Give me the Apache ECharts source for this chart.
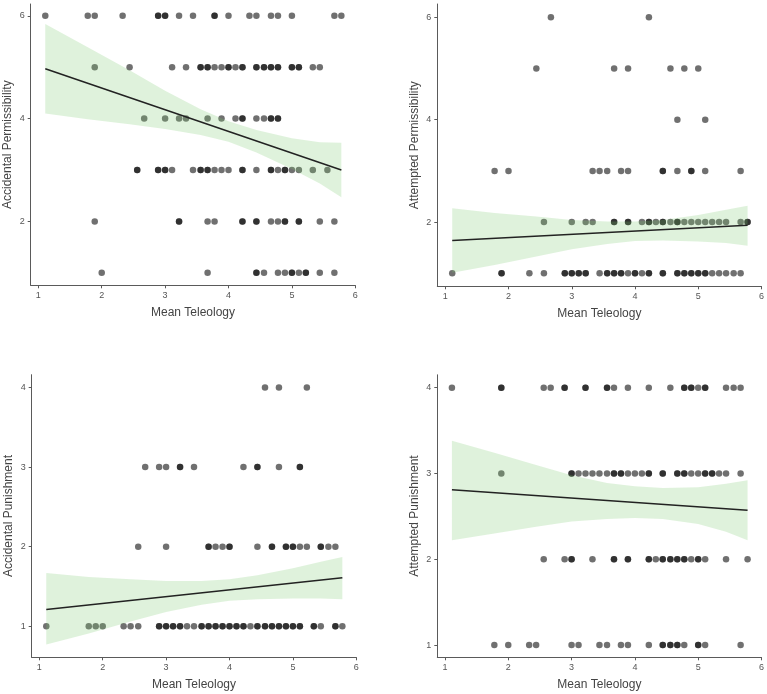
<!DOCTYPE html>
<html>
<head>
<meta charset="utf-8">
<script src="https://cdn.jsdelivr.net/npm/echarts@6/dist/echarts.min.js"></script>
<style>
  html, body { margin: 0; padding: 0; background: #fff; }
  #chart { width: 767px; height: 694px; }
</style>
</head>
<body>
<div id="chart"></div>
<script>
// points per response level (x = mean teleology); repeated x = overlapping points
var accPermRows = {
  6: [1.11, 1.78, 1.89, 2.33, 2.89, 2.89, 3.0, 3.0, 3.22, 3.44, 3.78, 3.78, 4.0, 4.33, 4.44, 4.67, 4.78, 5.0, 5.67, 5.78],
  5: [1.89, 2.44, 3.11, 3.33, 3.56, 3.56, 3.67, 3.67, 3.78, 3.89, 4.0, 4.0, 4.11, 4.22, 4.22, 4.44, 4.44, 4.56, 4.56, 4.67, 4.67, 4.78, 4.78, 5.0, 5.0, 5.11, 5.11, 5.33, 5.44],
  4: [2.67, 3.0, 3.22, 3.33, 3.67, 3.89, 4.11, 4.22, 4.22, 4.44, 4.56, 4.67, 4.67, 4.78, 4.78],
  3: [2.56, 2.56, 2.89, 2.89, 3.0, 3.0, 3.11, 3.44, 3.56, 3.56, 3.67, 3.67, 3.78, 3.89, 4.0, 4.22, 4.22, 4.44, 4.67, 4.67, 4.78, 4.89, 4.89, 5.0, 5.11, 5.33, 5.56],
  2: [1.89, 3.22, 3.22, 3.67, 3.78, 4.22, 4.22, 4.44, 4.44, 4.67, 4.78, 4.89, 4.89, 5.11, 5.11, 5.44, 5.67],
  1: [2.0, 3.67, 4.44, 4.44, 4.56, 4.78, 4.89, 5.0, 5.0, 5.11, 5.22, 5.22, 5.44, 5.67]
};
var attPermRows = {
  6: [2.67, 4.22],
  5: [2.44, 3.67, 3.89, 4.56, 4.78, 5.0],
  4: [4.67, 5.11],
  3: [1.78, 2.0, 3.33, 3.44, 3.56, 3.78, 3.89, 4.44, 4.44, 4.67, 4.89, 4.89, 5.11, 5.67],
  2: [2.56, 3.0, 3.22, 3.33, 3.67, 3.67, 3.89, 3.89, 4.11, 4.22, 4.22, 4.33, 4.44, 4.44, 4.56, 4.67, 4.67, 4.78, 4.89, 5.0, 5.11, 5.22, 5.33, 5.44, 5.67, 5.78, 5.78],
  1: [1.11, 1.89, 1.89, 2.33, 2.56, 2.89, 2.89, 3.0, 3.0, 3.11, 3.11, 3.22, 3.22, 3.44, 3.56, 3.56, 3.67, 3.67, 3.78, 3.78, 3.89, 4.0, 4.0, 4.11, 4.22, 4.22, 4.44, 4.44, 4.67, 4.67, 4.78, 4.78, 4.89, 4.89, 5.0, 5.0, 5.11, 5.11, 5.22, 5.33, 5.44, 5.56, 5.67]
};
var accPunRows = {
  4: [4.56, 4.78, 5.22],
  3: [2.67, 2.89, 3.0, 3.22, 3.22, 3.44, 4.22, 4.44, 4.44, 4.78, 5.11, 5.11],
  2: [2.56, 3.0, 3.67, 3.67, 3.78, 3.89, 4.0, 4.0, 4.44, 4.67, 4.67, 4.89, 4.89, 5.0, 5.0, 5.11, 5.22, 5.44, 5.44, 5.56, 5.67],
  1: [1.11, 1.78, 1.89, 2.0, 2.33, 2.44, 2.56, 2.89, 2.89, 3.0, 3.0, 3.11, 3.11, 3.22, 3.22, 3.33, 3.44, 3.56, 3.56, 3.67, 3.67, 3.78, 3.78, 3.89, 3.89, 4.0, 4.0, 4.11, 4.11, 4.22, 4.22, 4.33, 4.44, 4.44, 4.56, 4.56, 4.67, 4.67, 4.78, 4.78, 4.89, 4.89, 5.0, 5.0, 5.11, 5.11, 5.33, 5.33, 5.44, 5.67, 5.67, 5.78]
};
var attPunRows = {
  4: [1.11, 1.89, 1.89, 2.56, 2.67, 2.89, 2.89, 3.22, 3.22, 3.56, 3.56, 3.67, 3.89, 4.22, 4.56, 4.78, 4.78, 4.89, 4.89, 5.0, 5.11, 5.11, 5.44, 5.56, 5.67],
  3: [1.89, 3.0, 3.0, 3.11, 3.22, 3.33, 3.44, 3.56, 3.67, 3.67, 3.78, 3.78, 3.89, 4.0, 4.11, 4.22, 4.22, 4.44, 4.44, 4.67, 4.67, 4.78, 4.78, 4.89, 5.0, 5.11, 5.11, 5.22, 5.22, 5.33, 5.44, 5.67],
  2: [2.56, 2.89, 3.0, 3.0, 3.33, 3.67, 3.67, 3.89, 3.89, 4.22, 4.22, 4.33, 4.44, 4.44, 4.56, 4.56, 4.67, 4.67, 4.78, 4.78, 4.89, 5.0, 5.0, 5.11, 5.44, 5.78],
  1: [1.78, 2.0, 2.33, 2.44, 3.0, 3.11, 3.44, 3.56, 3.78, 3.89, 4.22, 4.44, 4.44, 4.56, 4.56, 4.67, 4.67, 4.78, 5.0, 5.0, 5.11, 5.67]
};

// fitted lines (ends) and confidence bands
var fitX = [1.11, 5.78];
var accPermFit = [4.97, 3.0];
var attPermFit = [1.64, 1.94];
var accPunFit = [1.21, 1.61];
var attPunFit = [2.81, 2.57];

var bandX = [1.11, 1.78, 2.44, 3.0, 3.56, 4.0, 4.44, 5.0, 5.44, 5.78];
var accPermHi = [5.84, 5.39, 4.94, 4.54, 4.18, 3.95, 3.78, 3.62, 3.54, 3.53];
var accPermLo = [4.10, 3.99, 3.89, 3.80, 3.68, 3.55, 3.34, 3.02, 2.74, 2.47];
var attPermHi = [2.27, 2.18, 2.11, 2.04, 2.01, 2.01, 2.04, 2.14, 2.24, 2.32];
var attPermLo = [1.01, 1.16, 1.33, 1.47, 1.57, 1.63, 1.64, 1.62, 1.59, 1.54];
var accPunHi = [1.67, 1.62, 1.59, 1.57, 1.57, 1.59, 1.64, 1.73, 1.81, 1.87];
var accPunLo = [0.77, 0.91, 1.06, 1.18, 1.27, 1.32, 1.34, 1.35, 1.35, 1.34];
var attPunHi = [3.38, 3.24, 3.10, 2.98, 2.89, 2.85, 2.83, 2.84, 2.88, 2.92];
var attPunLo = [2.22, 2.30, 2.38, 2.44, 2.47, 2.48, 2.47, 2.41, 2.32, 2.22];

var xTicks = [1, 2, 3, 4, 5, 6];
var permTicks = [2, 4, 6];
var punTicks = [1, 2, 3, 4];

var myChart = echarts.init(document.getElementById('chart'));

var axisColor = '#5a5a5a';
var fontFam = '"Liberation Sans", Arial, sans-serif';

function points(rows) {
  var out = [];
  Object.keys(rows).forEach(function (y) {
    rows[y].forEach(function (x) { out.push([x, +y]); });
  });
  return out;
}

function xAxis(i, min) {
  return {
    gridIndex: i, type: 'value', min: min, max: 6,
    name: 'Mean Teleology', nameLocation: 'middle', nameGap: 21,
    nameTextStyle: { color: '#444', fontSize: 12, fontFamily: fontFam },
    axisLine: { lineStyle: { color: axisColor, width: 1 } },
    axisTick: { customValues: xTicks, length: 3, lineStyle: { color: axisColor } },
    axisLabel: { customValues: xTicks, color: '#555', fontSize: 9, margin: 6, fontFamily: fontFam },
    splitLine: { show: false }
  };
}

function yAxis(i, min, max, ticks, name) {
  return {
    gridIndex: i, type: 'value', min: min, max: max,
    name: name, nameLocation: 'middle', nameGap: 17,
    nameTextStyle: { color: '#444', fontSize: 12, fontFamily: fontFam },
    axisLine: { show: true, lineStyle: { color: axisColor, width: 1 } },
    axisTick: { show: true, customValues: ticks, length: 3, lineStyle: { color: axisColor } },
    axisLabel: { customValues: ticks, color: '#555', fontSize: 9, margin: 6, fontFamily: fontFam },
    splitLine: { show: false }
  };
}

function panelSeries(i, rows, fit, hi, lo) {
  return [
    {
      type: 'scatter', xAxisIndex: i, yAxisIndex: i, z: 2,
      symbolSize: 6.5, data: points(rows),
      itemStyle: { color: 'rgba(0,0,0,0.7)' }
    },
    {
      type: 'custom', xAxisIndex: i, yAxisIndex: i, z: 3,
      data: [[bandX[0], hi[0]]],
      renderItem: function (params, api) {
        var pts = [];
        for (var k = 0; k < bandX.length; k++) pts.push(api.coord([bandX[k], hi[k]]));
        for (var j = bandX.length - 1; j >= 0; j--) pts.push(api.coord([bandX[j], lo[j]]));
        return { type: 'polygon', shape: { points: pts }, style: { fill: 'rgba(120,200,110,0.24)' } };
      }
    },
    {
      type: 'line', xAxisIndex: i, yAxisIndex: i, z: 4,
      symbol: 'none',
      data: fitX.map(function (x, k) { return [x, fit[k]]; }),
      lineStyle: { color: '#222', width: 1.5 }
    }
  ];
}

var option = {
  backgroundColor: '#fff',
  animation: false,
  grid: [
    { left: 30.7, top: 4, width: 324.6, height: 281.3 },
    { left: 437.3, top: 4, width: 325, height: 282.3 },
    { left: 31.7, top: 374.7, width: 324.6, height: 282.6 },
    { left: 437.3, top: 374.8, width: 325, height: 282.5 }
  ],
  xAxis: [xAxis(0, 0.88), xAxis(1, 0.874), xAxis(2, 0.88), xAxis(3, 0.879)],
  yAxis: [
    yAxis(0, 0.757, 6.23, permTicks, 'Accidental Permissibility'),
    yAxis(1, 0.746, 6.26, permTicks, 'Attempted Permissibility'),
    yAxis(2, 0.61, 4.16, punTicks, 'Accidental Punishment'),
    yAxis(3, 0.857, 4.15, punTicks, 'Attempted Punishment')
  ],
  series: [].concat(
    panelSeries(0, accPermRows, accPermFit, accPermHi, accPermLo),
    panelSeries(1, attPermRows, attPermFit, attPermHi, attPermLo),
    panelSeries(2, accPunRows, accPunFit, accPunHi, accPunLo),
    panelSeries(3, attPunRows, attPunFit, attPunHi, attPunLo)
  )
};

myChart.setOption(option);
</script>
</body>
</html>
